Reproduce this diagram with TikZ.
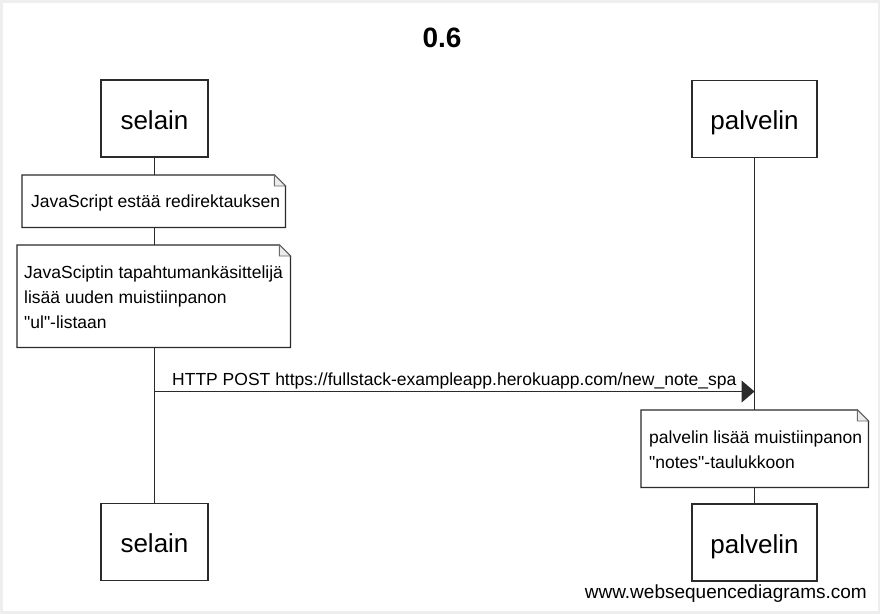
\documentclass[tikz,border=0pt]{standalone}
\usepackage{fontspec}
\setmainfont{Liberation Sans}[Ligatures=TeXOff]
\usetikzlibrary{arrows.meta,calc}
\definecolor{bordgray}{HTML}{EEEEEE}
\definecolor{ink}{HTML}{2B2B2B}
\tikzset{
  actorbox/.style={draw=ink, line width=1.4pt, fill=white, inner sep=0pt,
    minimum width=107pt, minimum height=77pt, text height=21pt, text depth=0pt,
    font=\fontsize{26}{30}\selectfont},
  actorboxw/.style={actorbox, minimum width=125pt},
  lifeline/.style={draw=ink, line width=1.4pt},
  notebox/.style={draw=none, fill=white, inner sep=0pt, anchor=north west},
  noteline/.style={draw=ink, line width=1.3pt},
  notefold/.style={draw=ink!70, line width=0.9pt, fill=black!8},
  notetext/.style={inner sep=0pt, anchor=base west, align=left,
    font=\fontsize{17.5}{25}\selectfont},
  msg/.style={draw=ink, line width=1.3pt, -{Triangle[length=13pt,width=22pt]}},
  msgtext/.style={inner sep=0pt, anchor=base west, font=\fontsize{17.5}{25}\selectfont},
}
\begin{document}
\begin{tikzpicture}[x=1pt,y=-1pt]
  % background
  \fill[bordgray] (0,0) rectangle (880,614);
  \fill[white] (3,3) rectangle (878,611);
  \useasboundingbox (0,0) rectangle (880,614);

  % title
  \node[inner sep=0pt, anchor=base, font=\bfseries\fontsize{28}{32}\selectfont] (title) at (442,47) {0.6};

  % actors
  \node[actorbox] (selT) at (154.5,118.5) {selain};
  \node[actorboxw] (palT) at (754.5,119) {palvelin};
  \node[actorbox] (selB) at (154.5,542) {selain};
  \node[actorboxw] (palB) at (754.5,542.5) {palvelin};

  % lifelines
  \draw[lifeline] (selT.south) -- (selB.north);
  \draw[lifeline] (palT.south) -- (palB.north);

  % note 1
  \node[notebox, minimum width=263pt, minimum height=52pt] (n1) at (22,175) {};
  \draw[noteline] (n1.north west) -- ([xshift=-11pt]n1.north east) -- ([yshift=-11pt]n1.north east) -- (n1.south east) -- (n1.south west) -- cycle;
  \draw[notefold] ([xshift=-11pt]n1.north east) -- ([xshift=-11pt,yshift=-11pt]n1.north east) -- ([yshift=-11pt]n1.north east) -- cycle;
  \node[notetext] (n1t) at ($(n1.north west)+(9,32)$) {JavaScript estää redirektauksen};

  % note 2 (base anchor = last line's baseline)
  \node[notebox, minimum width=273pt, minimum height=102pt] (n2) at (17,245) {};
  \draw[noteline] (n2.north west) -- ([xshift=-11pt]n2.north east) -- ([yshift=-11pt]n2.north east) -- (n2.south east) -- (n2.south west) -- cycle;
  \draw[notefold] ([xshift=-11pt]n2.north east) -- ([xshift=-11pt,yshift=-11pt]n2.north east) -- ([yshift=-11pt]n2.north east) -- cycle;
  \node[notetext] (n2t) at ($(n2.north west)+(7,83)$) {JavaSciptin tapahtumankäsittelijä\\lisää uuden muistiinpanon\\"ul"-listaan};

  % message
  \coordinate (m1s) at (154.5,391.5);
  \coordinate (m1e) at (754.5,391.5);
  \draw[msg] (m1s) -- (m1e);
  \node[msgtext] (m1t) at (172,385) {HTTP POST https://fullstack-exampleapp.herokuapp.com/new\_note\_spa};

  % note 3
  \node[notebox, minimum width=227pt, minimum height=77pt] (n3) at (641,410) {};
  \draw[noteline] (n3.north west) -- ([xshift=-11pt]n3.north east) -- ([yshift=-11pt]n3.north east) -- (n3.south east) -- (n3.south west) -- cycle;
  \draw[notefold] ([xshift=-11pt]n3.north east) -- ([xshift=-11pt,yshift=-11pt]n3.north east) -- ([yshift=-11pt]n3.north east) -- cycle;
  \node[notetext] (n3t) at ($(n3.north west)+(8,58)$) {palvelin lisää muistiinpanon\\"notes"-taulukkoon};

  % watermark
  \node[inner sep=0pt, anchor=base east, font=\fontsize{19}{22}\selectfont] (wm) at (867,598) {www.websequencediagrams.com};
\end{tikzpicture}
\end{document}
